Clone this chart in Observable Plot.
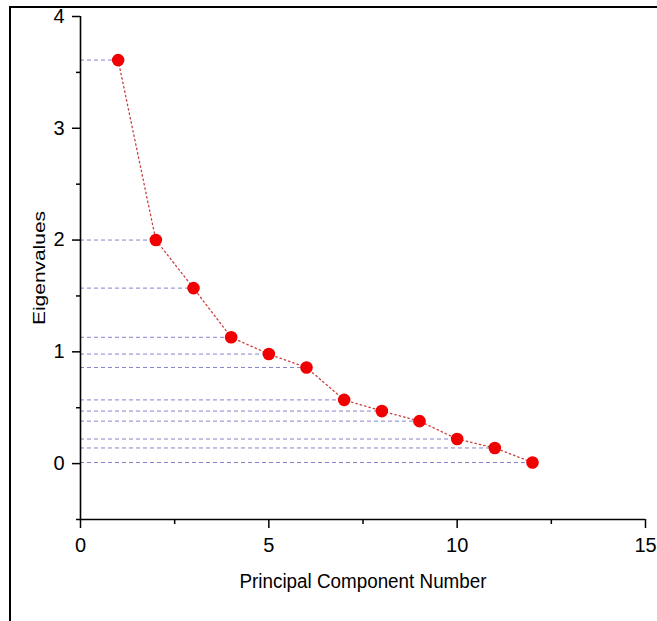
<!DOCTYPE html>
<html>
<head>
<meta charset="utf-8">
<script src="https://cdn.jsdelivr.net/npm/d3@7"></script>
<script src="https://cdn.jsdelivr.net/npm/@observablehq/plot@0.6"></script>
<style>
  html, body { margin: 0; padding: 0; background: #fff; }
  #wrap { position: relative; width: 657px; height: 621px; overflow: hidden; }
  #frame { position: absolute; left: 9px; top: 6px; width: 660px; height: 640px;
           border-top: 2px solid #000; border-left: 2px solid #000; }
  #chart { position: absolute; left: 0; top: 0; }
  #chart svg g[aria-label="x-axis tick label"],
  #chart svg g[aria-label="y-axis tick label"] { font-size: 20px !important; }
  #chart svg g[aria-label="x-axis label"] { font-size: 20px !important; }
  #chart svg g[aria-label="y-axis label"] { font-size: 17px !important; }
</style>
</head>
<body>
<div id="wrap"><div id="frame"></div><div id="chart"></div></div>
<script>
const components = [1, 2, 3, 4, 5, 6, 7, 8, 9, 10, 11, 12];
const eigenvalues = [3.61, 2.00, 1.57, 1.13, 0.98, 0.86, 0.57, 0.47, 0.38, 0.22, 0.14, 0.01];
const xMajorTicks = [0, 5, 10, 15];
const xMinorTicks = [2.5, 7.5, 12.5];
const yMajorTicks = [0, 1, 2, 3, 4];
const yMinorTicks = [-0.5, 0.5, 1.5, 2.5, 3.5];
const xTitle = "Principal Component Number";
const yTitle = "Eigenvalues";

const data = components.map((pc, i) => ({pc, v: eigenvalues[i]}));
const font = "'Liberation Sans', Arial, Helvetica, sans-serif";

const chart = Plot.plot({
  width: 657,
  height: 621,
  marginLeft: 80,
  marginRight: 12,
  marginTop: 16,
  marginBottom: 102,
  x: {domain: [0, 15]},
  y: {domain: [-0.5, 4]},
  style: {fontFamily: font, background: "transparent", color: "#000", overflow: "visible"},
  marks: [
    Plot.ruleY(data, {y: "v", x1: 0, x2: "pc", stroke: "#8484cc", strokeDasharray: "4,3", strokeWidth: 1}),
    Plot.line(data, {x: "pc", y: "v", stroke: "#c84040", strokeDasharray: "1.5,3", strokeWidth: 1.3}),
    Plot.dot(data, {x: "pc", y: "v", r: 6.3, fill: "#f00000", stroke: "none"}),
    Plot.ruleX([0], {stroke: "#000", strokeWidth: 1.6}),
    Plot.ruleY([-0.5], {stroke: "#000", strokeWidth: 1.6}),
    Plot.axisX({ticks: xMajorTicks, tickSize: 9, tickPadding: 9, tickFormat: d3.format("d"), strokeWidth: 1.5,
      label: xTitle, labelAnchor: "center", labelOffset: 68, labelArrow: "none"}),
    Plot.axisX({ticks: xMinorTicks, tickSize: 5, tickFormat: () => "", strokeWidth: 1.5, label: null}),
    Plot.axisY({ticks: yMajorTicks, tickSize: 8, tickPadding: 8, tickFormat: d3.format("d"), strokeWidth: 1.5,
      label: yTitle, labelAnchor: "center", labelOffset: 48, labelArrow: "none"}),
    Plot.axisY({ticks: yMinorTicks, tickSize: 4, tickFormat: () => "", strokeWidth: 1.5, label: null})
  ]
});
chart.querySelectorAll("g[aria-label='x-axis label'] text").forEach(t => {
  t.setAttribute("textLength", 247); t.setAttribute("lengthAdjust", "spacingAndGlyphs");
});
chart.querySelectorAll("g[aria-label='y-axis label'] text").forEach(t => {
  t.setAttribute("textLength", 114); t.setAttribute("lengthAdjust", "spacingAndGlyphs");
});
document.getElementById("chart").appendChild(chart);
</script>
</body>
</html>
